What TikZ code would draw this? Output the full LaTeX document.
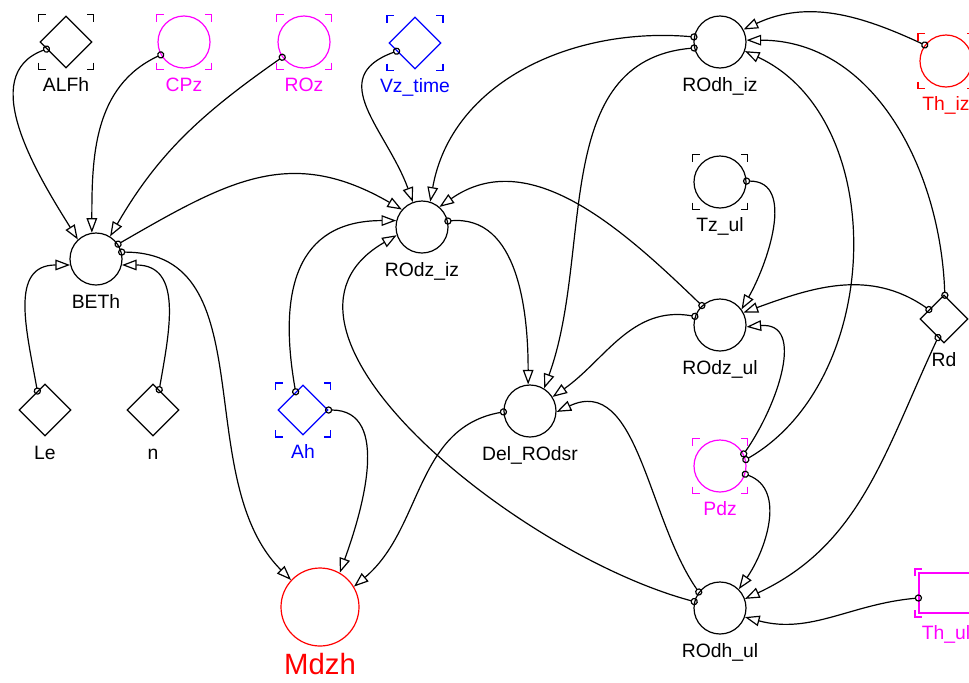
\documentclass[tikz,border=0pt]{standalone}
\usepackage{fontspec}
\setmainfont{Liberation Sans}
\usetikzlibrary{shapes.geometric, arrows.meta, calc}
\definecolor{vmag}{RGB}{255,0,255}
\definecolor{vblue}{RGB}{0,0,255}
\definecolor{vred}{RGB}{255,0,0}
\newcommand{\lblfont}{\fontsize{14.5}{17}\selectfont}
% corner brackets round a node: node, colour, half width, half height
\newcommand{\corners}[4]{%
  \foreach \cx/\cy in {1/1,1/-1,-1/1,-1/-1}
    \draw[#2, line width=0.9pt] ($(#1.center)+({\cx*#3},{\cy*(#4-7)})$)
      -- ($(#1.center)+({\cx*#3},{\cy*#4})$) -- ($(#1.center)+({\cx*(#3-7)},{\cy*#4})$);
}

\begin{document}
\begin{tikzpicture}[x=0.75pt, y=0.75pt,
  aux/.style={circle, draw, line width=0.9pt, minimum size=39pt, inner sep=0pt},
  cst/.style={diamond, draw, line width=0.9pt, minimum size=39pt, inner sep=0pt},
  tbl/.style={rectangle, draw, line width=0.9pt, minimum width=40.5pt, minimum height=30pt, inner sep=0pt},
  every label/.style={font=\lblfont, inner sep=0pt, text height=10.5pt, text depth=3pt},
  label distance=6.75pt,
  lnk/.style={{Circle[open, length=5.5pt]}-{Triangle[open, length=11pt, width=8pt]}, line width=0.9pt, shorten <=-2.75pt}
]
\useasboundingbox (0,0) rectangle (969,-682);
\clip (0,0) rectangle (969,-682);
% top row
\node[cst, label={below:ALFh}] (ALFh) at (66,-42) {};
\node[aux, draw=vmag, label={[vmag]below:CPz}] (CPz) at (184,-42) {};
\node[aux, draw=vmag, label={[vmag]below:ROz}] (ROz) at (304,-42) {};
\node[cst, draw=vblue, label={[vblue]below:Vz\_time}] (Vztime) at (415,-43) {};
\node[aux, label={below:ROdh\_iz}] (ROdhiz) at (720,-42) {};
\node[aux, draw=vred, label={[vred]below:Th\_iz}] (Thiz) at (946,-61) {};
% middle
\node[aux, label={below:BETh}] (BETh) at (96,-259) {};
\node[aux, label={below:ROdz\_iz}] (ROdziz) at (422,-227) {};
\node[aux, label={below:Tz\_ul}] (Tzul) at (720,-182) {};
\node[aux, label={below:ROdz\_ul}] (ROdzul) at (720,-325) {};
\node[cst, minimum size=36pt, label={below:Rd}] (Rd) at (944,-319) {};
\node[aux, label={below:Del\_ROdsr}] (DelROdsr) at (530,-411) {};
\node[cst, label={below:Le}] (Le) at (45,-410) {};
\node[cst, label={below:n}] (n) at (153,-410) {};
\node[cst, draw=vblue, minimum size=37.5pt, label={[vblue]below:Ah}] (Ah) at (303,-410) {};
\node[aux, draw=vmag, label={[vmag]below:Pdz}] (Pdz) at (720,-466) {};
% bottom
\node[aux, draw=vred, minimum size=58.5pt, label={[vred, font=\fontsize{22}{26}\selectfont, text height=15.8pt, text depth=0.5pt, label distance=5pt]below:Mdzh}] (Mdzh) at (320,-607) {};
\node[aux, label={below:ROdh\_ul}] (ROdhul) at (720,-608) {};
\node[tbl, draw=vmag, label={[vmag, label distance=9pt]below:Th\_ul}] (Thul) at (946,-593) {};
% brackets
\corners{ALFh}{black}{27.5}{27.5}
\corners{CPz}{vmag}{27.5}{27.5}
\corners{ROz}{vmag}{27.5}{27.5}
\corners{Vztime}{vblue}{28}{27.5}
\corners{Thiz}{vred}{28}{27.5}
\corners{Tzul}{black}{27.5}{27.5}
\corners{Ah}{vblue}{27.5}{27}
\corners{Pdz}{vmag}{27.5}{27.5}
\corners{Thul}{vmag}{31}{24}
% links into BETh
\draw[lnk] (ALFh.200) to[out=200, in=122] (BETh.133);
\draw[lnk] (CPz.209) to[out=205, in=90] (BETh.99);
\draw[lnk] (ROz.215) to[out=215, in=60] (BETh.58);
\draw[lnk] (Le.112) to[out=100, in=180, looseness=1.2] (BETh.193);
\draw[lnk] (n.73) to[out=80, in=0, looseness=1.2] (BETh.347);
% links into ROdz_iz
\draw[lnk] (BETh.34) to[out=30, in=150, looseness=1.15] (ROdziz.139);
\draw[lnk] (Vztime.204) to[out=200, in=110, looseness=1.3] (ROdziz.110);
\draw[lnk] (ROdhiz.169) to[out=175, in=80] (ROdziz.72);
\draw[lnk] (ROdzul.133) to[out=136, in=35] (ROdziz.49);
\draw[lnk] (Ah.112) to[out=100, in=180, looseness=1.3] (ROdziz.166);
\draw[lnk] (ROdhul.166) to[out=165, in=210] (ROdziz.198);
% links into Del_ROdsr
\draw[lnk] (ROdziz.13) to[out=5, in=90] (DelROdsr.94);
\draw[lnk] (ROdhiz.193) to[out=185, in=70] (DelROdsr.58);
\draw[lnk] (ROdzul.161) to[out=170, in=35] (DelROdsr.32);
\draw[lnk] (ROdhul.143) to[out=125, in=25] (DelROdsr.358);
% links into Mdzh
\draw[lnk] (BETh.15) to[out=0, in=135] (Mdzh.137);
\draw[lnk] (DelROdsr.182) to[out=190, in=40] (Mdzh.31);
\draw[lnk] (Ah.0) to[out=0, in=70] (Mdzh.60);
% links into ROdh_iz
\draw[lnk] (Thiz.143) to[out=155, in=25] (ROdhiz.28);
\draw[lnk] (Rd.88) to[out=92, in=0] (ROdhiz.4);
\draw[lnk] (Pdz.14) to[out=30, in=-25] (ROdhiz.340);
% links into ROdz_ul
\draw[lnk] (Tzul.2) to[out=0, in=60] (ROdzul.36);
\draw[lnk] (Rd.148) to[out=145, in=20] (ROdzul.28);
\draw[lnk] (Pdz.27) to[out=55, in=5, looseness=1.2] (ROdzul.356);
% links into ROdh_ul
\draw[lnk] (Pdz.342) to[out=-20, in=55] (ROdhul.45);
\draw[lnk] (Rd.252) to[out=245, in=25] (ROdhul.20);
\draw[lnk] ([yshift=-3.75pt]Thul.west) to[out=185, in=-15] (ROdhul.340);
\end{tikzpicture}
\end{document}
